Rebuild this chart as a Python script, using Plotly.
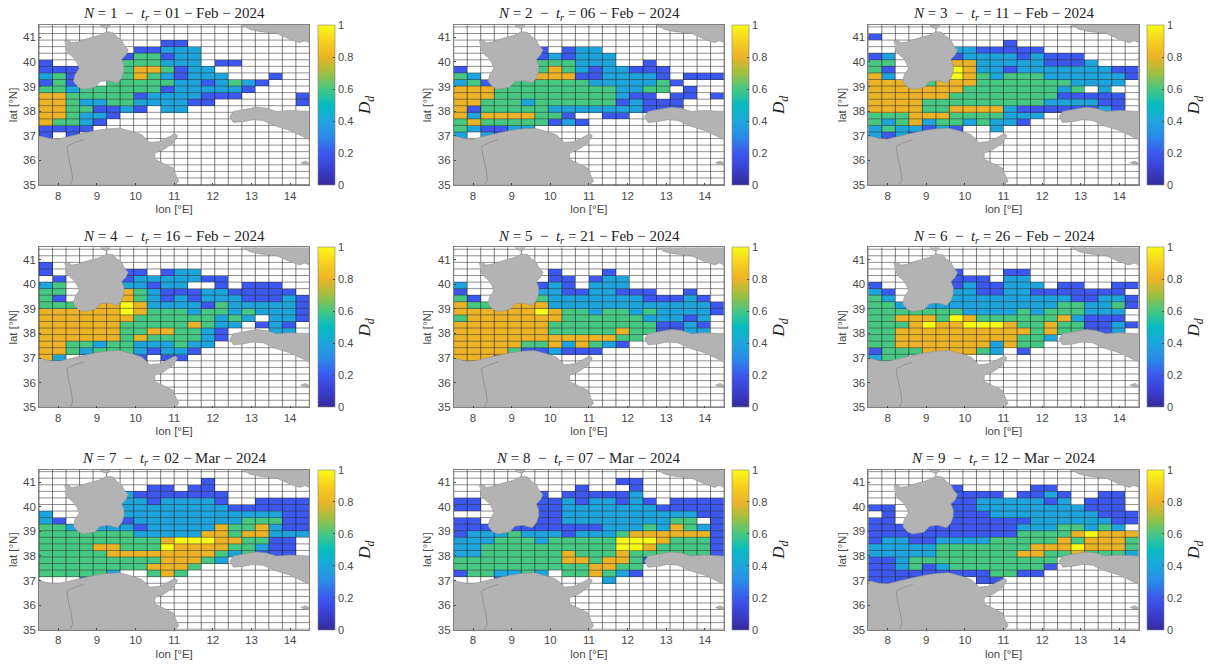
import numpy as np
import plotly.graph_objects as go

# Cell edges of the survey grid
lon_edges = [7.5 + 0.35 * i for i in range(21)]
lat_edges = [35.02 + 0.2667 * i for i in range(25)]

# Categorical density per cell, rows listed north to south, columns west to east.
# '.' means no data, digits 1-5 stand for 0.2, 0.4, 0.6, 0.8 and 1.
LEVELS = {"1": 0.2, "2": 0.4, "3": 0.6, "4": 0.8, "5": 1.0}

panel_1 = ["", "", ".........11.........", ".......11222........", "......133122........",
           "1.....333222.11.....", "111...3443122.......", "231...34321222...1..",
           "131..333332212321...", "3323333331222221....", "443333312222111....1",
           "4432233222211......1", "44331121.22.........", "443221..............",
           "43321...............", "1111................", "1.1................."]
panel_2 = ["", "", "", "......1.122.........", "......121222........",
           "......333222..1.....", "1.....3432122111....", "32....4441122221.111",
           "231.3333332222231...", "4443333333332233.1..", "444333333333211.11.1",
           "44333233333312111...", "41333332222222111...", "424444331..11.......",
           "3433333121..........", "321122..............", "2.21................"]
panel_3 = ["", "1...................", "..........1.........", "......2211111.......",
           "12....1222212111....", "33....44222221112...", "31....54221222222211",
           "42....54323332222221", "444.344433333332222.", "4444444333333323.2..",
           "4444443333333311111.", "4444333333333222211.", "4444334444211111121.",
           "3334443333222.......", "323423323221........", "2322121..2..........",
           "2121................"]
panel_4 = ["", "", "1...................", "1.....11.122........", ".1....12222211......",
           "23....22122..1.111..", "33....4321112211111.", "31....43212122211121",
           "333.4454222213222221", "44444454333233232221", "4444444333333232.221",
           "444444333334322.121.", "44444433443321...22.", "44444434333321......",
           "4433233222322.......", "443233321221........", "42....31.11........."]
panel_5 = ["", "", "", ".......1...1........", ".......11.122.......",
           "2.....121.222.......", "1.....221122111..1..", "31....3222222211121.",
           "433.4442222222222221", "44444454332332322221", "3444444433333322212.",
           "4444444333333331121.", "4444444333334331122.", "44444444444433......",
           "4444433424321.......", "44443112111.........", "4441..1............."]
panel_6 = ["", "", "", "......1...11........", "......111.22........",
           "1.....1211222.11..11", "21....2211221111111.", "32....22222222211221",
           "332.2222222222332231", "3333333222232333222.", "3344435433333342111.",
           "33345445554334331121", "3344444444443433112.", "33444444444332......",
           "3344444442433.......", "1333444432.1........", "233................."]
panel_7 = ["", "............1.......", "........11.11.......", "......21111111......",
           "......22122221..1111", "......22222222111111", "2.....22222222222211",
           "21....12222222233311", "332.2221222224334211", "33333332222244344222",
           "3333333334555443311.", "3333443335444433211.", "3333344444444323111.",
           "33333333344432......", "333333334443........", "333332..343.........",
           "...1................"]
panel_8 = ["", "............11......", ".........1...1......", "......1.111112......",
           "11....112122121.1111", "11....11222222211111", "......11222222222211",
           "11....112222222233.1", "111.1111111222324321", "12223222122234444441",
           "22233323333355543331", "22333333333355433331", "22333333433343333331",
           "333333334434431.....", "33333333334433......", "1332232.334321......",
           "...1..2....2........"]
panel_9 = ["", "", "......1.....11......", "......1111.1121..11.",
           "......112222212.111.", "11....1122222222111.", ".1....11122222222111",
           "11....11111122222211", "111.111111122233232.", "11111111111333345444",
           "12211222233333434443", "22222333333344454443", "22222333333443343332",
           "11233333333333......", "11231233333331......", "1111111113311.......",
           "1111....11.........."]
panels = [panel_1, panel_2, panel_3, panel_4, panel_5, panel_6, panel_7, panel_8, panel_9]

dates = ["01 − Feb − 2024", "06 − Feb − 2024", "11 − Feb − 2024",
         "16 − Feb − 2024", "21 − Feb − 2024", "26 − Feb − 2024",
         "02 − Mar − 2024", "07 − Mar − 2024", "12 − Mar − 2024"]

# Coastlines in degrees
sardinia_lon = [8.155, 8.26, 8.345, 8.52, 8.69, 8.905, 9.08, 9.25, 9.42, 9.51, 9.64, 9.70, 9.81, 9.75,
                9.64, 9.70, 9.70, 9.64, 9.53, 9.30, 9.08, 8.95, 8.65, 8.52, 8.39, 8.43, 8.54, 8.49,
                8.41, 8.26, 8.20]
sardinia_lat = [40.865, 40.89, 40.78, 40.82, 40.92, 41.03, 41.09, 41.23, 41.20, 41.03, 40.89, 40.69, 40.49,
                40.28, 40.11, 39.88, 39.61, 39.34, 39.14, 39.24, 39.20, 38.97, 38.89, 38.97, 39.20,
                39.47, 39.74, 39.95, 40.15, 40.35, 40.55]
africa_lon = [7.5, 7.78, 8.0, 8.215, 8.65, 8.99, 9.25, 9.59, 9.81, 9.94, 10.16, 10.28, 10.37, 10.63, 10.84,
              11.02, 11.09, 10.97, 10.72, 10.5, 10.5, 10.72, 10.97, 11.06, 11.12, 11.02, 7.5]
africa_lat = [37.0, 36.89, 36.865, 36.95, 37.11, 37.22, 37.28, 37.31, 37.22, 37.16, 37.04, 36.84, 36.73,
              36.77, 36.95, 37.08, 37.0, 36.70, 36.43, 36.30, 36.05, 35.89, 35.69, 35.35, 35.15, 35.0, 35.0]
border_lon = [8.65, 8.43, 8.22, 8.26, 8.34, 8.37, 8.3]
border_lat = [36.84, 36.73, 36.57, 36.16, 35.62, 35.22, 35.0]
sicily_lon = [14.5, 14.25, 13.99, 13.65, 13.3, 13.04, 12.78, 12.53, 12.44, 12.53, 12.78, 13.13, 13.39,
              13.65, 13.99, 14.5]
sicily_lat = [36.84, 37.04, 37.22, 37.38, 37.62, 37.65, 37.57, 37.54, 37.78, 37.99, 38.05, 38.16, 38.12,
              37.99, 38.03, 37.99]
italy_lon = [12.76, 12.96, 13.22, 13.65, 13.99, 14.25, 14.38, 14.5, 14.5]
italy_lat = [41.5, 41.32, 41.23, 41.16, 40.92, 40.78, 40.86, 40.78, 41.5]
corsica_lon = [9.08, 9.18, 9.28, 9.35]
corsica_lat = [41.5, 41.38, 41.36, 41.5]
malta_lon = [14.27, 14.4, 14.5, 14.5, 14.33]
malta_lat = [35.9, 35.97, 35.88, 35.83, 35.85]

lon_ticks = [8, 9, 10, 11, 12, 13, 14]
lat_ticks = [35, 36, 37, 38, 39, 40, 41]
bar_ticks = [0, 0.2, 0.4, 0.6, 0.8, 1]

PARULA = [[0.0, "#352a9a"], [0.1, "#3a3fd0"], [0.2, "#3c58ee"], [0.3, "#2a8ae8"], [0.4, "#1ea5dd"],
          [0.5, "#05bcc0"], [0.6, "#46c883"], [0.7, "#a0c040"], [0.8, "#ecb327"], [0.9, "#f8d020"],
          [1.0, "#f9fb15"]]

W, H = 1209, 667
LAND = "#b3b3b3"
COAST = "#929292"
TEXT = "#484848"
FRAME = "#808080"
col_left = [39.0, 453.7, 868.3]
row_top = [25.0, 247.3, 469.7]
PW, PH = 270.4, 160.0

vert_x, vert_y, horiz_x, horiz_y = [], [], [], []
for x in lon_edges:
    vert_x += [x, x, None]
    vert_y += [35, 41.5, None]
for y in lat_edges:
    horiz_x += [7.5, 14.5, None]
    horiz_y += [y, y, None]


def parse(rows):
    out = []
    for row in rows + [""] * (24 - len(rows)):
        row = row.ljust(20, ".")[:20]
        out.append([LEVELS.get(ch, np.nan) for ch in row])
    return out[::-1]


fig = go.Figure()
annotations = []
for k, rows in enumerate(panels):
    r, c = k // 3, k % 3
    left, top = col_left[c], row_top[r]
    suffix = "" if k == 0 else str(k + 1)
    xa, ya = "x" + suffix, "y" + suffix
    fig.add_trace(go.Heatmap(
        x=lon_edges, y=lat_edges, z=parse(rows), zmin=0, zmax=1, colorscale=PARULA,
        xaxis=xa, yaxis=ya, hoverinfo="skip",
        colorbar=dict(
            x=(left + PW + 8.3) / W, xanchor="left", xpad=0, ypad=0,
            y=1 - (top + PH) / H, yanchor="bottom", len=PH / H, lenmode="fraction",
            thickness=16.8, thicknessmode="pixels",
            tickvals=bar_ticks, ticktext=[f"{v:g}" for v in bar_ticks],
            ticks="inside", ticklen=2, tickcolor=TEXT, tickwidth=0.5,
            tickfont=dict(family="Liberation Sans", size=11, color=TEXT),
            outlinecolor=FRAME, outlinewidth=0.6,
            title=dict(text="<i>D<sub>d</sub></i>", side="right",
                       font=dict(family="Liberation Serif", size=17, color="#222222")),
        ),
    ))
    fig.add_trace(go.Scatter(x=vert_x, y=vert_y, mode="lines", xaxis=xa, yaxis=ya,
                             line=dict(color="#111111", width=0.55), hoverinfo="skip", showlegend=False))
    fig.add_trace(go.Scatter(x=horiz_x, y=horiz_y, mode="lines", xaxis=xa, yaxis=ya,
                             line=dict(color="#333333", width=0.55), hoverinfo="skip", showlegend=False))
    for lons, lats in [(africa_lon, africa_lat), (sardinia_lon, sardinia_lat), (sicily_lon, sicily_lat),
                       (italy_lon, italy_lat), (corsica_lon, corsica_lat), (malta_lon, malta_lat)]:
        fig.add_trace(go.Scatter(x=lons, y=lats, mode="lines", fill="toself", fillcolor=LAND,
                                 xaxis=xa, yaxis=ya, line=dict(color=COAST, width=0.6),
                                 hoverinfo="skip", showlegend=False))
    fig.add_trace(go.Scatter(x=border_lon, y=border_lat, mode="lines", xaxis=xa, yaxis=ya,
                             line=dict(color="#808080", width=0.6), hoverinfo="skip", showlegend=False))

    axis_common = dict(
        showgrid=False, zeroline=False, showline=True, mirror=True, linecolor=FRAME, linewidth=0.6,
        ticks="inside", ticklen=2, tickcolor=TEXT, tickwidth=0.5,
        tickfont=dict(family="Liberation Sans", size=11.5, color=TEXT),
    )
    fig.update_layout({
        ("xaxis" + suffix): dict(
            axis_common, range=[7.5, 14.5], tickvals=lon_ticks, anchor=ya,
            domain=[left / W, (left + PW) / W],
            title=dict(text="lon [°E]", standoff=4, font=dict(family="Liberation Sans", size=11.5, color=TEXT))),
        ("yaxis" + suffix): dict(
            axis_common, range=[35, 41.5], tickvals=lat_ticks, anchor=xa,
            domain=[1 - (top + PH) / H, 1 - top / H],
            title=dict(text="lat [°N]", standoff=3, font=dict(family="Liberation Sans", size=11.5, color=TEXT))),
    })
    annotations.append(dict(
        x=(left + PW / 2) / W, y=1 - (top - 10.5) / H, xref="paper", yref="paper", showarrow=False,
        xanchor="center", yanchor="middle",
        font=dict(family="Liberation Serif", size=15, color="#222222"),
        text=f"<i>N</i> = {k + 1}\u00a0\u00a0−\u00a0\u00a0<i>t<sub>r</sub></i> = {dates[k]}",
    ))

fig.update_layout(width=W, height=H, margin=dict(l=0, r=0, t=0, b=0, autoexpand=False), paper_bgcolor="white",
                  plot_bgcolor="white", showlegend=False, annotations=annotations)
fig.write_html("out.html")
